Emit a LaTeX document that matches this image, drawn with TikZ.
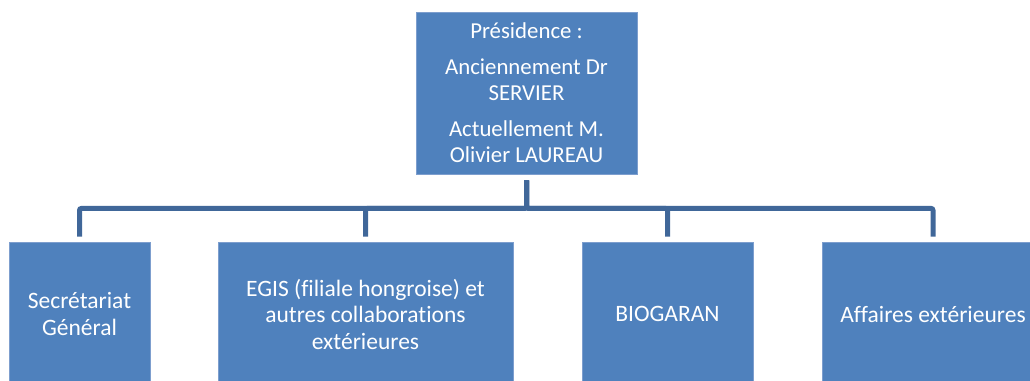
\documentclass[tikz,border=0pt]{standalone}
\usepackage{fontspec}
\setmainfont[Ligatures=NoCommon]{Carlito}
\definecolor{boxfill}{RGB}{79,129,189}
\definecolor{boxedge}{RGB}{125,158,206}
\definecolor{connclr}{RGB}{64,103,153}
\begin{document}
\begin{tikzpicture}[x=1pt,y=1pt,
  orgbox/.style={rectangle, fill=boxfill, draw=boxedge, line width=0.8pt,
    text=white, align=center, inner sep=0pt,
    font=\fontsize{23.5}{26.5}\selectfont},
  topbox/.style={orgbox, font=\fontsize{22.8}{26.5}\selectfont},
  conn/.style={draw=connclr, line width=5pt, rounded corners=2pt,
    shorten <=6pt, shorten >=5pt}]
\useasboundingbox (0,0) rectangle (1030,-380);
\clip (0,0) rectangle (1030,-380);
\node[topbox, minimum width=221, minimum height=162] (top) at (526.5,-93)
  {Présidence :\\[9pt] Anciennement Dr\\ SERVIER\\[9pt] Actuellement M.\\ Olivier LAUREAU};
\node[orgbox, minimum width=141, minimum height=144] (b1) at (79.5,-314)
  {Secrétariat\\ Général};
\node[orgbox, minimum width=295, minimum height=144] (b2) at (365.5,-314)
  {EGIS (filiale hongroise) et\\ autres collaborations\\ extérieures};
\node[orgbox, minimum width=171, minimum height=144] (b3) at (667.5,-314)
  {BIOGARAN};
\node[orgbox, minimum width=222, minimum height=144] (b4) at (933,-314)
  {Affaires extérieures};
\foreach \b in {b1,b2,b3,b4}
  \draw[conn] (top.south) -- ++(0,-34) -| (\b.north);
\end{tikzpicture}
\end{document}
